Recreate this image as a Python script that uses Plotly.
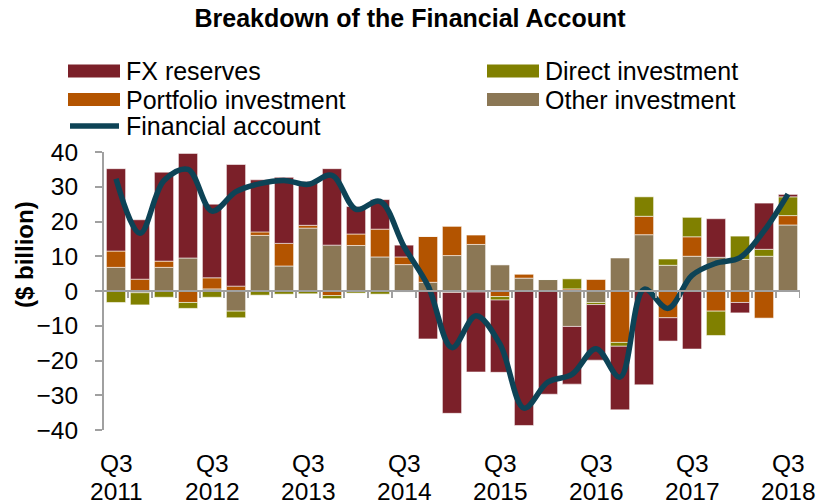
import plotly.graph_objects as go

# quarters, Q3 2011 .. Q3 2018
quarters = [
    "Q3 2011", "Q4 2011", "Q1 2012", "Q2 2012", "Q3 2012", "Q4 2012",
    "Q1 2013", "Q2 2013", "Q3 2013", "Q4 2013", "Q1 2014", "Q2 2014",
    "Q3 2014", "Q4 2014", "Q1 2015", "Q2 2015", "Q3 2015", "Q4 2015",
    "Q1 2016", "Q2 2016", "Q3 2016", "Q4 2016", "Q1 2017", "Q2 2017",
    "Q3 2017", "Q4 2017", "Q1 2018", "Q2 2018", "Q3 2018",
]

# $ billion
other_inv = [6.8, -0.5, 6.8, 9.5, 0.6, -5.8, 16.0, 7.2, 18.1, 13.2, 13.1, 9.8,
             7.6, 2.5, 10.2, 13.4, 7.5, 3.7, 3.3, -10.2, -3.3, 9.5, 16.2, 7.4,
             10.0, 9.7, 9.1, 10.0, 19.0]
portfolio_inv = [4.7, 3.4, 1.8, -3.3, 3.2, 1.4, 1.0, 6.5, 0.8, -1.3, 3.3, 8.0,
                 2.2, 13.2, 8.4, 2.7, -1.6, 1.2, 0.0, 0.6, 3.3, -14.8, 5.3, -7.7,
                 5.6, -5.8, -3.3, -7.8, 2.7]
direct_inv = [-3.3, -3.5, -1.8, -1.7, -1.8, -1.9, -1.2, -0.9, -0.8, -0.9, -0.6, -0.9,
              -0.3, 0.0, -0.4, -0.3, -1.0, 0.0, 0.0, 2.9, -0.6, -1.1, 5.6, 1.8,
              5.6, -7.0, 6.7, 2.0, 5.4]
fx_reserves = [23.7, 17.1, 25.6, 30.1, 21.2, 35.0, 15.0, 19.0, 12.6, 22.0, 7.9, 8.5,
               3.4, -13.8, -34.8, -23.0, -20.8, -38.7, -29.7, -16.6, -16.0, -18.3, -27.0, -6.7,
               -16.7, 11.1, -3.0, 13.3, 0.7]
financial_acct = [32.3, 16.6, 31.8, 35.0, 23.0, 28.6, 30.9, 31.8, 30.7, 33.3, 23.5, 25.8,
                  12.8, 1.5, -16.3, -7.1, -15.3, -33.7, -26.2, -24.0, -16.6, -24.8, 0.5, -5.0,
                  4.5, 8.0, 9.6, 17.3, 27.9]

tick_quarters = quarters[::4]

colors = {
    "FX reserves": "#7B2029",
    "Direct investment": "#808000",
    "Portfolio investment": "#B35400",
    "Other investment": "#8B7755",
    "Financial account": "#0D4356",
}
FONT = "Liberation Sans, Arial, sans-serif"
GREY = "#A0A0A0"

# plot area in pixels (for the hand-drawn legend and labels)
L, R, T, B = 104, 800, 152, 430


def px(x):
    return (x - L) / (R - L)


def py(y):
    return (B - y) / (B - T)


fig = go.Figure()
# stacking order: other, portfolio, direct, FX
for name, vals in [("Other investment", other_inv),
                   ("Portfolio investment", portfolio_inv),
                   ("Direct investment", direct_inv),
                   ("FX reserves", fx_reserves)]:
    fig.add_trace(go.Bar(
        x=quarters, y=vals, name=name, showlegend=False,
        marker=dict(color=colors[name],
                    line=dict(color="rgba(255,255,255,0.55)", width=1)),
    ))

# horizontal axis line at zero with ticks between the bars
fig.add_shape(type="line", xref="paper", yref="y", x0=0, x1=1, y0=0, y1=0,
              line=dict(color=GREY, width=2))
for i in range(1, len(quarters) + 1):
    fig.add_shape(type="line", xref="x", yref="y", ysizemode="pixel", yanchor=0,
                  x0=i - 0.5, x1=i - 0.5, y0=0, y1=-7,
                  line=dict(color=GREY, width=2))

fig.add_trace(go.Scatter(
    x=quarters, y=financial_acct, name="Financial account", mode="lines",
    showlegend=False,
    line=dict(color=colors["Financial account"], width=5.5, shape="spline", smoothing=1),
))

# legend drawn by hand: wide Excel-style swatches
legend_items = [
    ("FX reserves", 68, 71, "bar"),
    ("Direct investment", 487, 71, "bar"),
    ("Portfolio investment", 68, 99.5, "bar"),
    ("Other investment", 487, 99.5, "bar"),
    ("Financial account", 68, 126, "line"),
]
for name, x0, yc, kind in legend_items:
    if kind == "bar":
        fig.add_shape(type="rect", xref="paper", yref="paper",
                      x0=px(x0), x1=px(x0 + 52), y0=py(yc + 6.5), y1=py(yc - 6.5),
                      fillcolor=colors[name], line=dict(width=0))
    else:
        fig.add_shape(type="line", xref="paper", yref="paper",
                      x0=px(x0 + 2), x1=px(x0 + 51), y0=py(yc), y1=py(yc),
                      line=dict(color=colors[name], width=5.5))
    fig.add_annotation(text=name, xref="paper", yref="paper",
                       x=px(x0 + 56), y=py(yc), xanchor="left", yanchor="middle",
                       showarrow=False, font=dict(family=FONT, size=25, color="#000"))

# category labels along the bottom (two lines: quarter / year)
for q in tick_quarters:
    qpart, ypart = q.split(" ")
    fig.add_annotation(text=qpart, x=q, xref="x", yref="paper", y=py(463.5),
                       xanchor="center", yanchor="middle", showarrow=False,
                       font=dict(family=FONT, size=24.5, color="#000"))
    fig.add_annotation(text=ypart, x=q, xref="x", yref="paper", y=py(491.5),
                       xanchor="center", yanchor="middle", showarrow=False,
                       font=dict(family=FONT, size=24.5, color="#000"))

fig.add_annotation(text="<b>($ billion)</b>", xref="paper", yref="paper",
                   x=px(24), y=py(255), textangle=-90, showarrow=False,
                   xanchor="center", yanchor="middle",
                   font=dict(family=FONT, size=24, color="#000"))

fig.update_layout(
    width=825, height=504,
    margin=dict(l=L, r=825 - R, t=T, b=504 - B, autoexpand=False),
    paper_bgcolor="white", plot_bgcolor="white",
    barmode="relative", bargap=0.2,
    font=dict(family=FONT, color="#000"),
    title=dict(text="<b>Breakdown of the Financial Account</b>",
               x=410 / 825, y=1 - 18 / 504, xref="container", yref="container",
               xanchor="center", yanchor="middle",
               font=dict(family=FONT, size=25, color="#000")),
    xaxis=dict(type="category", categoryorder="array", categoryarray=quarters,
               range=[-0.5, len(quarters) - 0.5],
               showticklabels=False, ticks="", showline=False,
               showgrid=False, zeroline=False, automargin=False),
    yaxis=dict(range=[-40, 40], dtick=10, ticks="outside", ticklen=7, tickwidth=2,
               tickcolor=GREY, showline=True, linecolor=GREY, linewidth=2,
               showgrid=False, zeroline=False, ticklabelstandoff=12,
               automargin=False,
               tickfont=dict(family=FONT, size=24.5, color="#000")),
)

fig.write_html("out.html", config={"displayModeBar": False},
               post_script="document.body.style.margin='0';")
